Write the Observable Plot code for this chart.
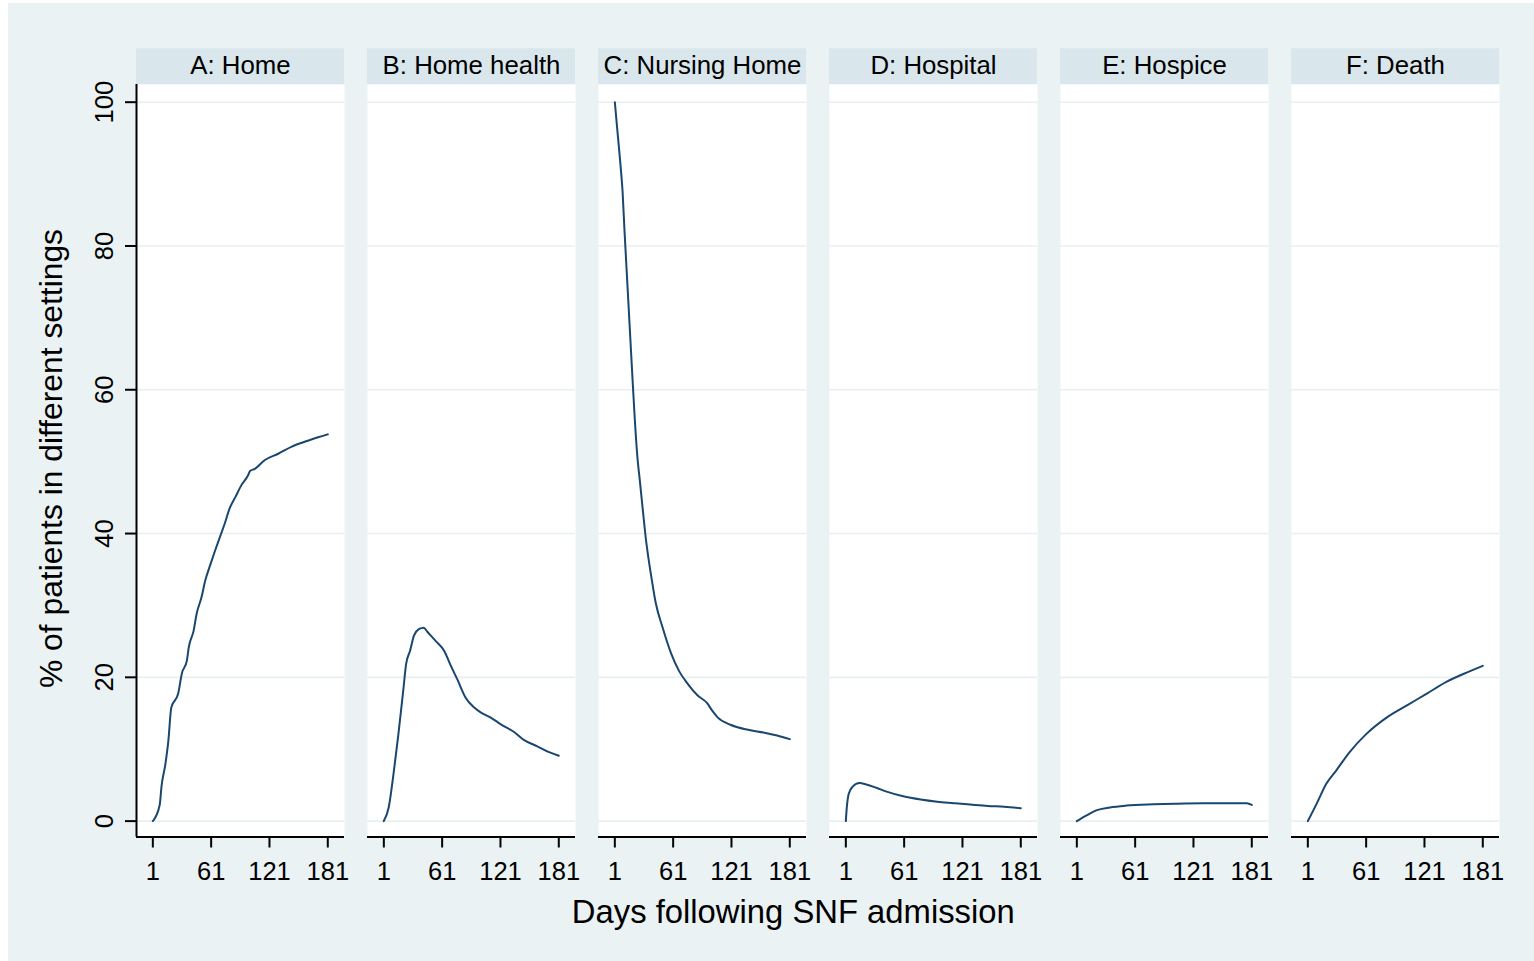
<!DOCTYPE html>
<html><head><meta charset="utf-8">
<script src="https://cdn.jsdelivr.net/npm/d3@7"></script>
<script src="https://cdn.jsdelivr.net/npm/@observablehq/plot@0.6"></script>
<style>
html,body{margin:0;padding:0;background:#fff;}
#bg{position:absolute;left:8px;top:3px;width:1526px;height:958px;background:#eaf2f3;}
#chart{position:absolute;left:0;top:0;}
</style></head><body>
<div id="bg"></div><div id="chart"></div>
<script>
// ---- data ----
const panels = ["A: Home", "B: Home health", "C: Nursing Home", "D: Hospital", "E: Hospice", "F: Death"];
const xTicks = [1, 61, 121, 181];
const yTicks = [0, 20, 40, 60, 80, 100];
const xTitle = "Days following SNF admission";
const yTitle = "% of patients in different settings";

// [day, % of patients]
const home = [[1,0],[8,2.2],[10,4.9],[14,8.0],[17,11.2],[20,15.8],[27,17.7],[31,20.6],[36,22.3],[38,24.2],[43,26.5],[46,28.8],[51,31.1],[55,33.5],[60,35.6],[65,37.6],[70,39.5],[75,41.4],[80,43.5],[86,45.1],[92,46.7],[99,48.1],[101,48.7],[106,49.0],[116,50.2],[130,51.1],[144,52.1],[158,52.8],[171,53.4],[181,53.8]];
const homeHealth = [[1,0],[6,1.9],[11,6.6],[16,12.1],[21,18.2],[24,21.9],[28,23.7],[32,25.8],[37,26.7],[42,26.9],[46,26.3],[54,25.1],[63,23.7],[70,21.6],[77,19.6],[85,17.2],[94,15.8],[101,15.1],[111,14.4],[121,13.5],[135,12.4],[145,11.3],[159,10.4],[171,9.6],[181,9.1]];
const nursingHome = [[1,100],[4,95.5],[7,91],[9,87.5],[11,82],[13,77],[15,72],[17,67],[19,62],[21.5,56],[24,51],[27,47],[30,43],[33,39.2],[36,36.2],[39,33.6],[43,30.4],[50,27.0],[59,23.3],[67,20.9],[76,19.1],[86,17.5],[96,16.4],[101,15.4],[107,14.4],[120,13.4],[138,12.7],[155,12.3],[168,11.9],[181,11.4]];
const hospital = [[1,0],[2,1.9],[4,3.8],[8,4.8],[15,5.3],[22,5.1],[33,4.6],[43,4.1],[60,3.45],[78,3.0],[95,2.7],[112,2.5],[129,2.3],[147,2.1],[164,2.0],[181,1.8]];
const hospice = [[1,0],[11,0.8],[21,1.5],[35,1.9],[52,2.16],[80,2.34],[104,2.43],[131,2.48],[166,2.48],[176,2.48],[181,2.25]];
const death = [[1,0],[10,2.4],[20,5.2],[30,7.0],[44,9.6],[61,12.1],[82,14.4],[103,16.1],[123,17.7],[144,19.4],[165,20.7],[181,21.6]];

const series = [home, homeHealth, nursingHome, hospital, hospice, death];
const rows = panels.flatMap((p, i) => series[i].map(([day, pct]) => ({panel: p, day, pct})));

// ---- chart ----
const font = "'Liberation Sans', Arial, Helvetica, sans-serif";
const xDom = [-15.8, 198.2];
const yDom = [-2.21, 102.46];
const stripTop = 107.43;   // strip header above the plot frame
const stripMid = 105.03;

const chart = Plot.plot({
  width: 1534, height: 961,
  marginLeft: 135, marginRight: 34, marginTop: 84, marginBottom: 124.5,
  style: {background: "transparent", fontFamily: font, color: "black", overflow: "visible"},
  fx: {domain: panels, paddingInner: 0.1, paddingOuter: 0, axis: null, label: null},
  x: {domain: xDom, axis: null},
  y: {domain: yDom, axis: null},
  marks: [
    Plot.frame({fill: "white", stroke: "none"}),
    Plot.gridY(yTicks, {stroke: "#e8eff1", strokeOpacity: 1, strokeWidth: 1.6}),
    Plot.rect(panels, {fx: d => d, x1: () => xDom[0], x2: () => xDom[1], y1: () => yDom[1], y2: () => stripTop, fill: "#d9e6eb"}),
    Plot.text(panels, {fx: d => d, x: () => (xDom[0] + xDom[1]) / 2, y: () => stripMid, text: d => d, fontSize: 25.8, fill: "black"}),
    Plot.line(rows, {fx: "panel", x: "day", y: "pct", stroke: "#1a476f", strokeWidth: 2, curve: "monotone-x"}),
    Plot.ruleY([yDom[0]], {stroke: "black", strokeWidth: 2}),
    Plot.ruleX([panels[0]], {fx: d => d, x: () => xDom[0], stroke: "black", strokeWidth: 2}),
    Plot.axisX(xTicks, {anchor: "bottom", tickSize: 11, tickPadding: 13.5, fontSize: 25.5, strokeWidth: 2, label: null, color: "black"}),
    Plot.axisY(yTicks, {anchor: "left", tickSize: 11, tickPadding: 13, tickRotate: -90, fontSize: 25.5, strokeWidth: 2, label: null, color: "black"})
  ]
});

const svg = d3.select(chart);
svg.append("text")
  .attr("x", 793.3).attr("y", 922.7)
  .attr("text-anchor", "middle").attr("font-size", 32.8).attr("font-family", font).attr("fill", "black")
  .text(xTitle);
svg.append("text")
  .attr("transform", "translate(62,458.5) rotate(-90)")
  .attr("text-anchor", "middle").attr("font-size", 31.8).attr("font-family", font).attr("fill", "black")
  .text(yTitle);

document.getElementById("chart").appendChild(chart);
</script>
</body></html>
